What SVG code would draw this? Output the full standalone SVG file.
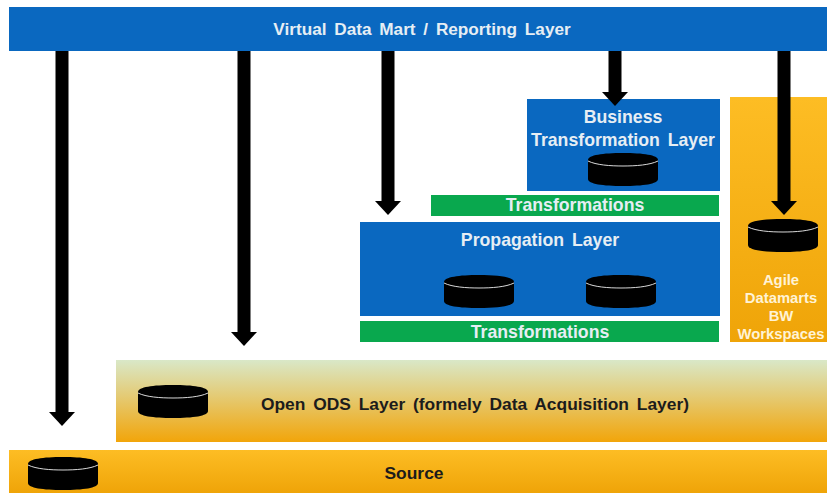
<svg xmlns="http://www.w3.org/2000/svg" width="827" height="493" viewBox="0 0 827 493">
<style>
text{font-family:"Liberation Sans",Arial,sans-serif;font-weight:700;text-anchor:middle;word-spacing:3px}
.w{fill:#e6eef4;font-size:17.7px}
.wy{fill:#fff3d6;font-size:14.8px}
.k{fill:#1c1c1c;font-size:17.4px}
.blue{fill:#0a68c0}
.green{fill:#09a84e}
.drum{fill:#000}
.rim{fill:none;stroke:#d8d8d8;stroke-width:1}
.conn{stroke:#000;stroke-width:13;fill:none;marker-end:url(#a)}
</style>
<defs>
<marker id="a" markerUnits="userSpaceOnUse" markerWidth="14" markerHeight="26" refX="0" refY="13" orient="auto" viewBox="0 0 14 26"><path d="M0 0L14 13L0 26Z" fill="#000"/></marker>
<linearGradient id="yel" x1="0" y1="0" x2="0" y2="1"><stop offset="0" stop-color="#fdbd24"/><stop offset="1" stop-color="#efa408"/></linearGradient>
<linearGradient id="ods" x1="0" y1="0" x2="0" y2="1"><stop offset="0" stop-color="#d9e8c8"/><stop offset="1" stop-color="#f2a50a"/></linearGradient>
<g id="cyl"><path class="drum" d="M0 7C0 2 15 0 35 0S70 2 70 7V26C70 31 55 33 35 33S0 31 0 26Z"/><path class="rim" d="M0 8C8 12 22 13 35 13S62 12 70 8"/></g>
</defs>
<g id="virtual-data-mart"><rect class="blue" x="9" y="7" width="818" height="44"/><text class="w" x="422" y="35" style="font-size:17.2px">Virtual Data Mart / Reporting Layer</text></g>
<g id="business-layer"><rect class="blue" x="527" y="99" width="193" height="92"/><text class="w" x="623" y="123">Business</text><text class="w" x="623" y="146">Transformation Layer</text><use href="#cyl" x="588" y="153"/></g>
<g id="transformations-upper"><rect class="green" x="431" y="195" width="288" height="21"/><text class="w" x="575" y="211">Transformations</text></g>
<g id="agile-datamarts"><rect x="730" y="97" width="97" height="245" fill="url(#yel)"/><text class="wy" x="781" y="285">Agile</text><text class="wy" x="781" y="303">Datamarts</text><text class="wy" x="781" y="321">BW</text><text class="wy" x="781" y="339">Workspaces</text><use href="#cyl" x="748" y="219"/></g>
<g id="propagation-layer"><rect class="blue" x="360" y="222" width="360" height="94"/><text class="w" x="540" y="246">Propagation Layer</text><use href="#cyl" x="444" y="275"/><use href="#cyl" x="586" y="275"/></g>
<g id="transformations-lower"><rect class="green" x="360" y="321" width="359" height="21"/><text class="w" x="540" y="338">Transformations</text></g>
<g id="open-ods-layer"><rect x="116" y="360" width="711" height="82" fill="url(#ods)"/><text class="k" x="475" y="410">Open ODS Layer (formely Data Acquisition Layer)</text><use href="#cyl" x="138" y="385"/></g>
<g id="source"><rect x="9" y="450" width="818" height="43" fill="url(#yel)"/><text class="k" x="414" y="479">Source</text><use href="#cyl" x="28" y="457"/></g>
<g id="connectors">
<path class="conn" d="M62 51V412"/>
<path class="conn" d="M244 51V332"/>
<path class="conn" d="M388 51V201"/>
<path class="conn" d="M615 51V92"/>
<path class="conn" d="M784 51V201"/>
</g>
</svg>
